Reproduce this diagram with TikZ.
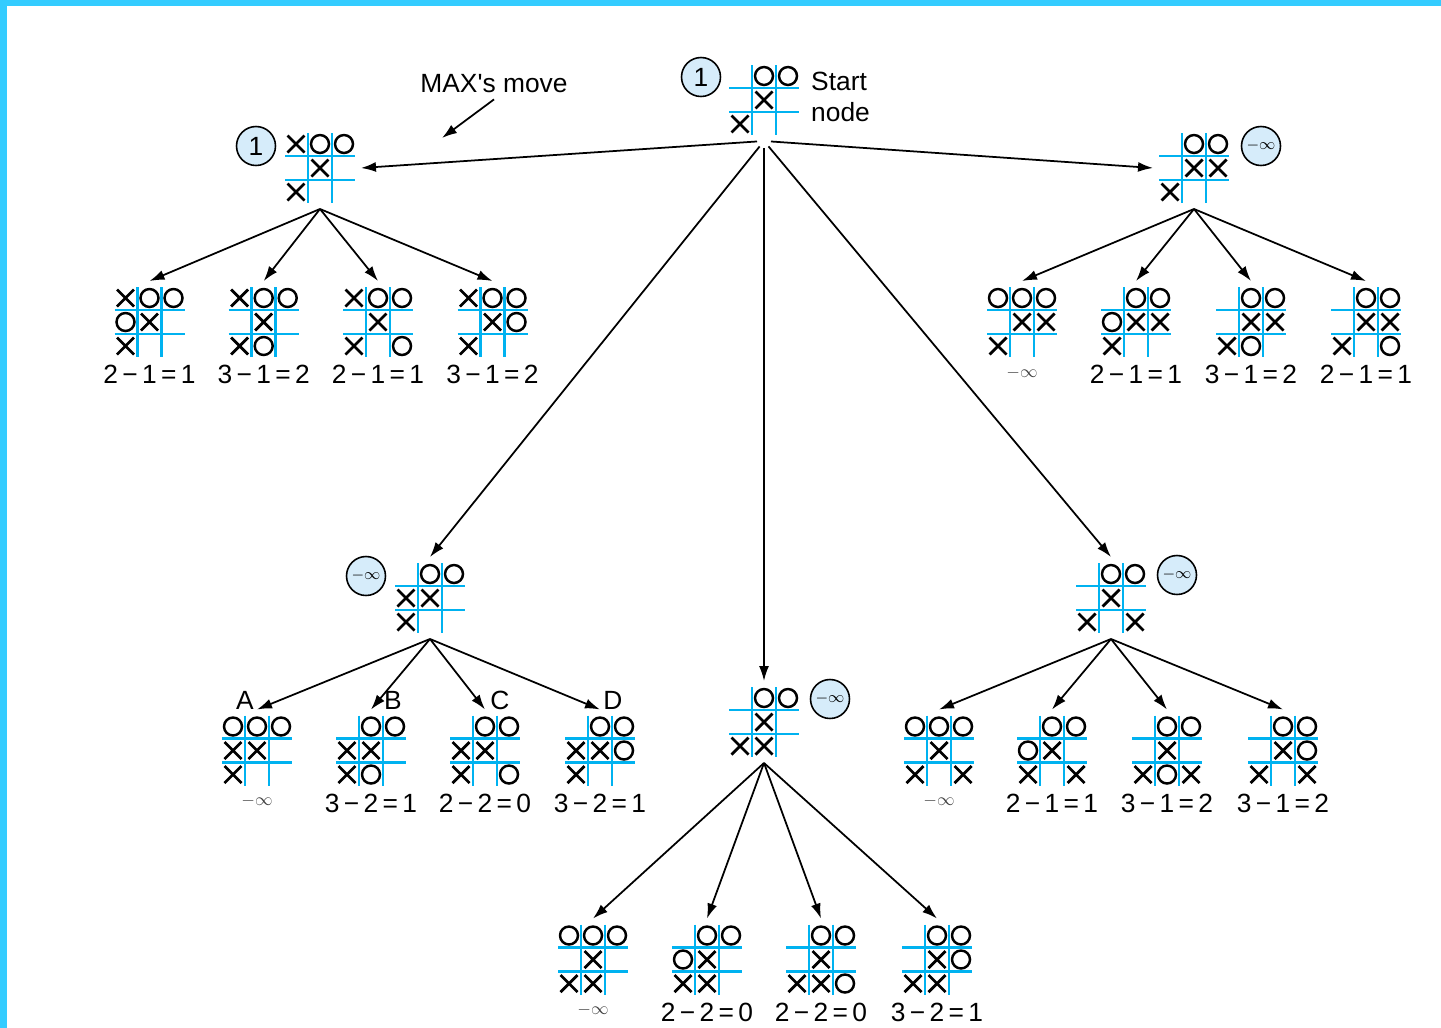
\documentclass[tikz,border=0pt]{standalone}
\usepackage{fontspec}
\setmainfont{Liberation Sans}
\usetikzlibrary{arrows.meta}

\definecolor{framecyan}{RGB}{51,204,255}
\definecolor{gridcyan}{RGB}{0,178,240}
\definecolor{discblue}{RGB}{214,236,250}

\tikzset{
  gridline/.style={gridcyan, line width=1.4pt},
  crossline/.style={black, line width=1.6pt},
  noughtline/.style={black, line width=1.4pt},
  boardbox/.style={minimum size=1.44cm, inner sep=0pt, outer sep=0.1cm},
  valuedisc/.style={circle, draw, fill=discblue, line width=0.9pt, minimum size=0.78cm, inner sep=0pt, font=\fontsize{15}{18}\selectfont},
  scorelabel/.style={anchor=north, inner sep=1pt, font=\fontsize{15}{18}\selectfont},
  lostlabel/.style={anchor=north, inner sep=2pt, text=black!75},
  move/.style={-{Latex[length=3mm,width=2mm]}, line width=1pt},
}

% board: name, centre, crosses (col/row), noughts (col/row)
\newcommand{\board}[4]{%
  \node[boardbox] (#1) at (#2) {};
  \foreach \g in {-12,12} {
    \draw[gridline] ([shift={(\g,-35)}]#1.center) -- ([shift={(\g,35)}]#1.center);
    \draw[gridline] ([shift={(-35,\g)}]#1.center) -- ([shift={(35,\g)}]#1.center);
  }
  \foreach \c/\r in {#3}
    \draw[crossline] ([shift={(24*\c-8.5,24*\r-8.5)}]#1.center) -- ++(17,17)
                     ([shift={(24*\c+8.5,24*\r-8.5)}]#1.center) -- ++(-17,17);
  \foreach \c/\r in {#4}
    \draw[noughtline] ([shift={(24*\c,24*\r)}]#1.center) circle[radius=1.8mm];
}

\begin{document}
\begin{tikzpicture}[x=0.02cm, y=-0.02cm]

\useasboundingbox (0,0) rectangle (1441,1028);
\fill[framecyan] (0,0) rectangle (1441,6);
\fill[framecyan] (0,0) rectangle (7,1028);

% start node
\board{s}{764,100}{0/0,-1/1}{0/-1,1/-1}
\node[valuedisc] (vs) at (701,77) {1};
\node[anchor=west, align=left, font=\fontsize{15}{17.6}\selectfont] (start) at (805,97) {Start\\node};

\node[font=\fontsize{15}{18}\selectfont] (maxnote) at (494,84) {MAX\textquotesingle s move};
\coordinate (maxtip) at (442,138);
\draw[move] (maxnote.south) -- (maxtip);

% level 1
\board{l}{320,168}{-1/-1,0/0,-1/1}{0/-1,1/-1}
\node[valuedisc] (vl) at (256,146) {1};

\board{r}{1194,168}{0/0,1/0,-1/1}{0/-1,1/-1}
\node[valuedisc] (vr) at (1261,146) {\small$-\infty$};

\board{m1}{430,598}{-1/0,0/0,-1/1}{0/-1,1/-1}
\node[valuedisc] (vm1) at (366,576) {\small$-\infty$};

\board{m2}{764,722}{0/0,-1/1,0/1}{0/-1,1/-1}
\node[valuedisc] (vm2) at (830,699) {\small$-\infty$};

\board{m3}{1111,598}{0/0,-1/1,1/1}{0/-1,1/-1}
\node[valuedisc] (vm3) at (1177,575) {\small$-\infty$};

\draw[move, shorten <=0.14cm] (s.south) -- (l.east);
\draw[move, shorten <=0.14cm] (s.south) -- (r.west);
\foreach \t in {m1,m2,m3}
  \draw[move, shorten <=0.14cm] (s.south) -- (\t.north);

% level 2, left
\board{la}{149.5,322}{-1/-1,0/0,-1/1}{0/-1,1/-1,-1/0}
\board{lb}{263.7,322}{-1/-1,0/0,-1/1}{0/-1,1/-1,0/1}
\board{lc}{378,322}{-1/-1,0/0,-1/1}{0/-1,1/-1,1/1}
\board{ld}{492.5,322}{-1/-1,0/0,-1/1}{0/-1,1/-1,1/0}
\node[scorelabel] (sla) at (la.south) {2\,−\,1\,=\,1};
\node[scorelabel] (slb) at (lb.south) {3\,−\,1\,=\,2};
\node[scorelabel] (slc) at (lc.south) {2\,−\,1\,=\,1};
\node[scorelabel] (sld) at (ld.south) {3\,−\,1\,=\,2};
\foreach \t in {la,lb,lc,ld}
  \draw[move] (l.south) -- (\t.north);

% level 2, right
\board{ra}{1022,322}{0/0,1/0,-1/1}{-1/-1,0/-1,1/-1}
\board{rb}{1136,322}{0/0,1/0,-1/1}{0/-1,1/-1,-1/0}
\board{rc}{1251,322}{0/0,1/0,-1/1}{0/-1,1/-1,0/1}
\board{rd}{1366,322}{0/0,1/0,-1/1}{0/-1,1/-1,1/1}
\node[lostlabel] (sra) at (ra.south) {$-\infty$};
\node[scorelabel] (srb) at (rb.south) {2\,−\,1\,=\,1};
\node[scorelabel] (src) at (rc.south) {3\,−\,1\,=\,2};
\node[scorelabel] (srd) at (rd.south) {2\,−\,1\,=\,1};
\foreach \t in {ra,rb,rc,rd}
  \draw[move] (r.south) -- (\t.north);

% level 2, under m1
\board{ma}{257,750.5}{-1/0,0/0,-1/1}{-1/-1,0/-1,1/-1}
\board{mb}{371,750.5}{-1/0,0/0,-1/1}{0/-1,1/-1,0/1}
\board{mc}{485,750.5}{-1/0,0/0,-1/1}{0/-1,1/-1,1/1}
\board{md}{600,750.5}{-1/0,0/0,-1/1}{0/-1,1/-1,1/0}
\node[lostlabel] (sma) at (ma.south) {$-\infty$};
\node[scorelabel] (smb) at (mb.south) {3\,−\,2\,=\,1};
\node[scorelabel] (smc) at (mc.south) {2\,−\,2\,=\,0};
\node[scorelabel] (smd) at (md.south) {3\,−\,2\,=\,1};
\foreach \t in {ma,mb,mc,md}
  \draw[move] (m1.south) -- (\t.north);
\node[font=\fontsize{15}{18}\selectfont] (tagA) at (245,700) {A};
\node[font=\fontsize{15}{18}\selectfont] (tagB) at (393,700) {B};
\node[font=\fontsize{15}{18}\selectfont] (tagC) at (500,700) {C};
\node[font=\fontsize{15}{18}\selectfont] (tagD) at (613,700) {D};

% level 2, under m2
\board{ca}{593,959.5}{0/0,-1/1,0/1}{-1/-1,0/-1,1/-1}
\board{cb}{707,959.5}{0/0,-1/1,0/1}{0/-1,1/-1,-1/0}
\board{cc}{821,959.5}{0/0,-1/1,0/1}{0/-1,1/-1,1/1}
\board{cd}{937,959.5}{0/0,-1/1,0/1}{0/-1,1/-1,1/0}
\node[lostlabel] (sca) at (ca.south) {$-\infty$};
\node[scorelabel] (scb) at (cb.south) {2\,−\,2\,=\,0};
\node[scorelabel] (scc) at (cc.south) {2\,−\,2\,=\,0};
\node[scorelabel] (scd) at (cd.south) {3\,−\,2\,=\,1};
\foreach \t in {ca,cb,cc,cd}
  \draw[move] (m2.south) -- (\t.north);

% level 2, under m3
\board{na}{939,750.5}{0/0,-1/1,1/1}{-1/-1,0/-1,1/-1}
\board{nb}{1052,750.5}{0/0,-1/1,1/1}{0/-1,1/-1,-1/0}
\board{nc}{1167,750.5}{0/0,-1/1,1/1}{0/-1,1/-1,0/1}
\board{nd}{1283,750.5}{0/0,-1/1,1/1}{0/-1,1/-1,1/0}
\node[lostlabel] (sna) at (na.south) {$-\infty$};
\node[scorelabel] (snb) at (nb.south) {2\,−\,1\,=\,1};
\node[scorelabel] (snc) at (nc.south) {3\,−\,1\,=\,2};
\node[scorelabel] (snd) at (nd.south) {3\,−\,1\,=\,2};
\foreach \t in {na,nb,nc,nd}
  \draw[move] (m3.south) -- (\t.north);

\end{tikzpicture}
\end{document}
